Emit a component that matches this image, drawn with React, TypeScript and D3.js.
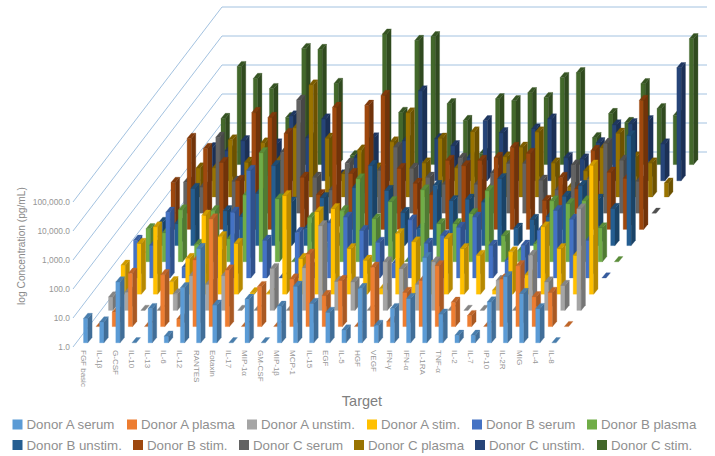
import React from "react";
import * as d3 from "d3";

// Targets along the front edge of the floor.
const categories = ["FGF basic","IL-1β","G-CSF","IL-10","IL-13","IL-6","IL-12","RANTES","Eotaxin","IL-17","MIP-1α","GM-CSF","MIP-1β","MCP-1","IL-15","EGF","IL-5","HGF","VEGF","IFN-γ","IFN-α","IL-1RA","TNF-α","IL-2","IL-7","IP-10","IL-2R","MIG","IL-4","IL-8"];
const seriesNames = ["Donor A serum","Donor A plasma","Donor A unstim.","Donor A stim.","Donor B serum","Donor B plasma","Donor B unstim.","Donor B stim.","Donor C serum","Donor C plasma","Donor C unstim.","Donor C stim."];
const seriesColors = ["#5B9BD5","#ED7D31","#A5A5A5","#FFC000","#4472C4","#70AD47","#255E91","#9E480E","#636363","#997300","#264478","#43682B"];
const tickLabels = ["1.0","10.0","100.0","1,000.0","10,000.0","100,000.0"];

// log10(pg/mL) per target, one list per sample.
const donorASerum = [0.84,0.72,2.1,0,1.18,0.23,1.9,3.25,1.3,0,1.5,0,1.26,1.95,1.36,1.05,0.44,1.87,0.6,1.18,1.53,2.94,0.99,0.26,0.26,1.41,2.28,1.7,1.18,0];
const donorAPlasma = [0,0.5,1.84,0,1.79,0.26,2.3,3.71,1.95,0,1.38,0,1.64,2.5,1.07,1.59,0,2.05,0.17,1.18,1.59,2.1,0.84,0.38,0,1.64,2.1,1.03,1.18,0];
const donorAUnstim = [0.46,0.63,0,0,0.57,1.2,0.9,1.2,0,0,1.44,0,1.47,2.92,1.0,0.98,0,1.67,1.44,0.9,1.67,0,0,0,1.03,0,1.9,0.98,0.86,3.5];
const donorAStim = [1.0,1.75,2.32,0.43,1.23,2.72,1.98,1.75,0.05,0.02,3.4,1.23,2.84,2.95,1.57,1.17,0.2,2.09,1.8,1.0,1.92,1.57,1.34,0.14,1.46,0.66,2.32,1.57,1.34,4.45];
const donorBSerum = [1.3,1.13,2.27,0.37,0.3,0.8,2.27,3.71,1.3,0,1.57,0.4,1.9,2.1,1.64,1.23,0.5,2.0,1.2,1.47,1.75,2.1,1.13,0.6,1.13,1.64,2.33,2.03,1.3,0];
const donorBPlasma = [1.14,1.0,1.79,0.6,1.76,0.79,2.3,3.76,2.17,0,1.52,0.5,1.76,2.86,1.48,2.07,0,2.48,1.31,1.31,1.66,2.45,0.9,0.38,0.62,2.1,2.0,2.1,1.17,0];
const donorBUnstim = [0.8,0.76,1.97,0.9,1.2,1.0,1.8,2.76,1.5,0.6,1.65,0.3,2.0,2.76,1.9,1.14,0.6,2.07,1.55,1.6,1.5,2.31,0.6,0.9,1.0,1.7,2.07,1.6,1.28,3.79];
const donorBStim = [1.62,3.14,2.79,2.31,1.69,4.03,3.86,3.31,1.8,1.2,4.21,1.93,4.28,4.62,2.1,1.59,1.2,2.38,2.2,2.38,2.48,2.83,2.62,1.0,1.79,1.4,2.72,1.97,1.76,4.45];
const donorCSerum = [1.07,0.9,2.62,1.1,1.2,1.3,2.1,3.9,1.24,0.8,1.72,0.7,1.48,2.28,1.55,1.24,1.0,1.9,1.0,1.38,1.72,1.72,1.14,0.8,1.66,1.2,2.41,1.83,1.1,0];
const donorCPlasma = [1.0,1.0,1.97,1.2,1.86,1.3,2.38,3.86,2.03,0.8,1.62,1.0,1.9,2.9,1.17,2.03,1.0,2.24,0.3,1.38,1.72,2.24,1.17,0.34,0.9,1.69,2.2,1.38,1.17,0.48];
const donorCUnstim = [1.14,1.03,1.38,1.0,1.27,2.24,1.48,2.13,0.2,0.8,1.48,1.2,1.38,3.1,1.45,1.21,0.8,2.07,1.66,1.0,1.79,2.13,0.8,0.75,1.31,1.93,1.97,2.07,1.27,3.9];
const donorCStim = [1.59,3.38,2.97,2.62,1.62,4.0,3.97,2.8,0.31,0.8,4.5,1.8,4.28,4.41,2.1,1.52,0.38,2.27,2.2,2.48,2.31,3.0,3.17,0.93,1.76,1.45,2.79,1.93,1.69,4.34];

const seriesValues = [donorASerum,donorAPlasma,donorAUnstim,donorAStim,donorBSerum,donorBPlasma,donorBUnstim,donorBStim,donorCSerum,donorCPlasma,donorCUnstim,donorCStim];

// Legend rows and the left edge of each swatch.
const legendX = [12.5,127,247,367,472,587,12.5,133,239,354,475,597];
const legendY = [424.5,445];

const W = 715, H = 456;
const FONT = "'Liberation Sans', Arial, sans-serif";
const GRID = "#a3c2e0";

// Oblique projection: category runs right, row runs up and to the right, value runs straight up.
const xCat = d3.scalePoint<string>().domain(categories).range([83.5, 83.5 + 29 * 16.15]);
const rowShift = d3.scalePoint<string>().domain(seriesNames).range([0, 11]);
const DX = 12.5, DY = 16.2, BASE = 342.8;
const hScale = d3.scaleLinear().domain([0, 5]).range([0, 145]);
const BAR_W = 4.3, DEPTH_X = 4.3, DEPTH_Y = 5.2;

const wallFront = { x: 73, y: 347 };
const wallBack = { x: 222, y: 152 };
const wallRight = 707;

const poly = (pts: [number, number][]) => d3.line()(pts) + "Z";

function Bar({ c, s, v, color }: { c: string; s: string; v: number; color: string }) {
  const r = rowShift(s)!;
  const x = xCat(c)! + r * DX;
  const y0 = BASE - r * DY;
  const y1 = y0 - hScale(v);
  const base = d3.color(color)!;
  const side = base.darker(0.95).formatHex();
  const top = base.darker(0.6).formatHex();
  return (
    <g strokeWidth={0.3} strokeLinejoin="round">
      {v > 0 && <path d={poly([[x, y0], [x + BAR_W, y0], [x + BAR_W, y1], [x, y1]])} fill={color} stroke={color} />}
      {v > 0 && <path d={poly([[x + BAR_W, y0], [x + BAR_W + DEPTH_X, y0 - DEPTH_Y], [x + BAR_W + DEPTH_X, y1 - DEPTH_Y], [x + BAR_W, y1]])} fill={side} stroke={side} />}
      <path d={poly([[x, y1], [x + BAR_W, y1], [x + BAR_W + DEPTH_X, y1 - DEPTH_Y], [x + DEPTH_X, y1 - DEPTH_Y]])} fill={top} stroke={top} />
    </g>
  );
}

export default function App() {
  const ticks = tickLabels.map((_, i) => i);
  return (
    <svg width={W} height={H} style={{ position: "absolute", left: 0, top: 0, background: "#fff" }} fontFamily={FONT}>
      {/* Side wall and back wall gridlines */}
      {ticks.map(t => (
        <path key={t} fill="none" stroke={GRID} strokeWidth={1} strokeLinejoin="round"
          d={d3.line()([[wallFront.x, wallFront.y - hScale(t)], [wallBack.x, wallBack.y - hScale(t)], [wallRight, wallBack.y - hScale(t)]])!} />
      ))}
      {/* Value axis */}
      {ticks.map(t => (
        <text key={t} x={70} y={wallFront.y - hScale(t) + 3} textAnchor="end" fontSize={8.4} fill="#969696">{tickLabels[t]}</text>
      ))}
      <text transform="translate(24.5,246) rotate(-90)" textAnchor="middle" fontSize={10.2} fill="#8a8a8a">log Concentration (pg/mL)</text>
      {/* Rows are painted back to front */}
      {seriesNames.map((s, r) => ({ s, r })).reverse().map(({ s, r }) => (
        <g key={s}>
          {categories.map((c, i) => (
            <Bar key={c} c={c} s={s} v={seriesValues[r][i]} color={seriesColors[r]} />
          ))}
        </g>
      ))}
      {/* Category labels */}
      {categories.map(c => (
        <text key={c} transform={`translate(${xCat(c)! - 3},350) rotate(90)`} fontSize={8} fill="#969696">{c}</text>
      ))}
      <text x={362} y={405.5} textAnchor="middle" fontSize={14.5} fill="#808080">Target</text>
      {/* Legend */}
      {seriesNames.map((s, i) => {
        const y = legendY[i < 6 ? 0 : 1];
        return (
          <g key={s}>
            <rect x={legendX[i]} y={y - 5} width={10} height={10} fill={seriesColors[i]} />
            <text x={legendX[i] + 14} y={y + 4.5} fontSize={13.3} fill="#8f8f8f">{s}</text>
          </g>
        );
      })}
    </svg>
  );
}
